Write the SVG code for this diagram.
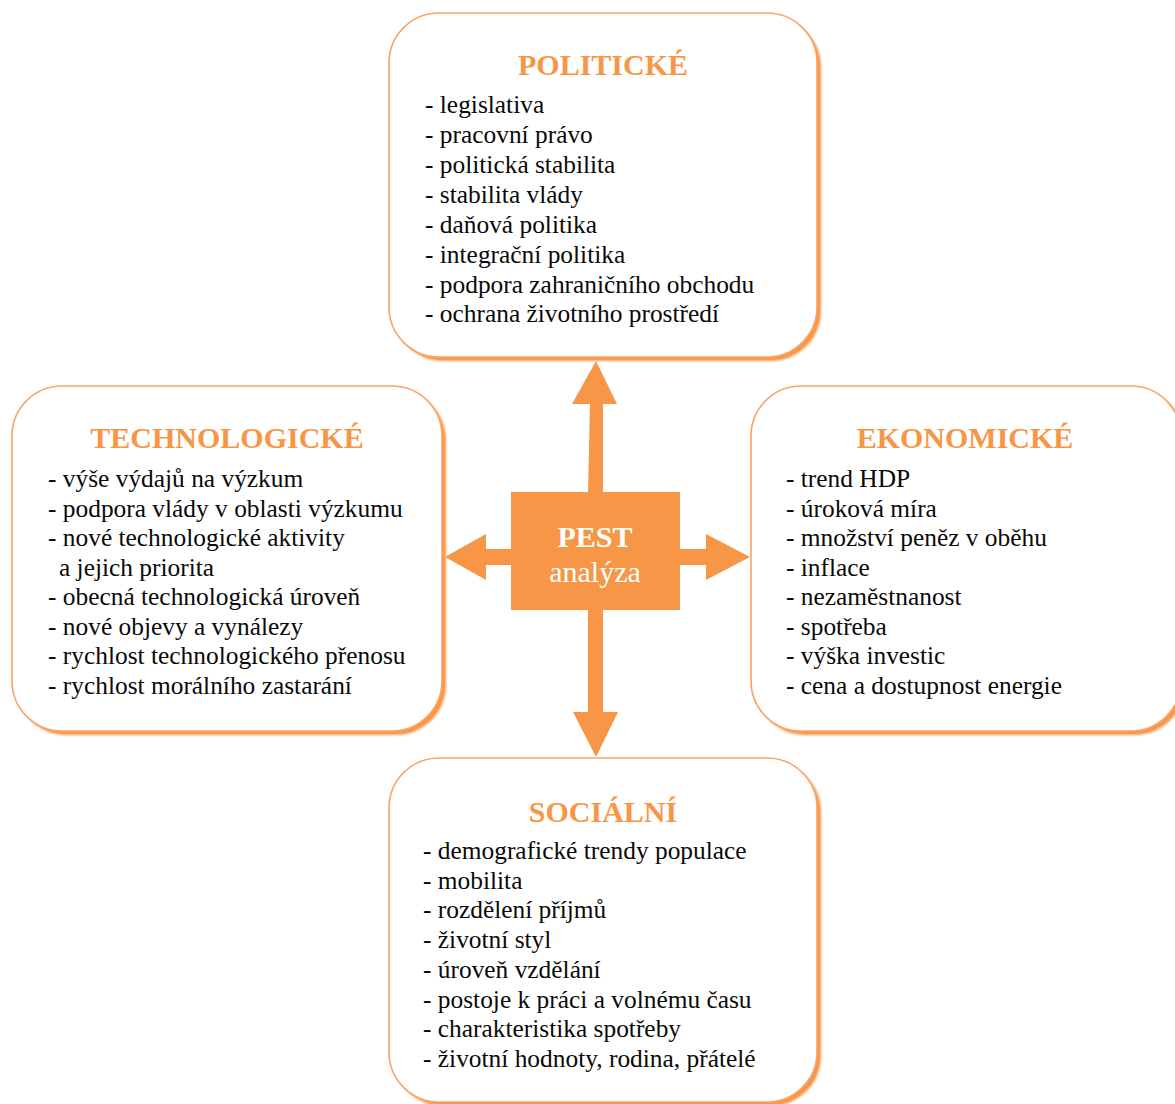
<svg xmlns="http://www.w3.org/2000/svg" width="1175" height="1104" viewBox="0 0 1175 1104">
  <defs>
    <style>
      .card { fill: #ffffff; stroke: #F9A468; stroke-width: 1.6; }
      .shade { fill: #F79646; }
      .title { font-family: "Liberation Serif", "Times New Roman", serif; font-size: 30px; font-weight: bold; fill: #F79646; text-anchor: middle; }
      .item { font-family: "Liberation Serif", "Times New Roman", serif; font-size: 25.4px; fill: #0a0a0a; }
      .hub { fill: #F79646; }
      .hubtext { font-family: "Liberation Serif", "Times New Roman", serif; font-size: 30px; fill: #ffffff; text-anchor: middle; }
      .arrow { fill: #F79646; }
    </style>
    <filter id="soft" x="-5%" y="-5%" width="110%" height="110%">
      <feGaussianBlur stdDeviation="0.8"/>
    </filter>
  </defs>

  <rect x="0" y="0" width="1175" height="1104" fill="#ffffff"/>

  <!-- connectors: four block arrows leaving the hub -->
  <g id="connectors">
    <polygon class="arrow" points="590,404 572,404 596,361 617,404 603,404 603,493 588,493"/>
    <polygon class="arrow" points="588,609 603,609 603,712 618,712 596,757 573,712 588,712"/>
    <polygon class="arrow" points="512,549 486,549 486,534 445,557 486,580 486,565 512,565"/>
    <polygon class="arrow" points="679,549 706,549 706,534 750,557 706,580 706,565 679,565"/>
  </g>

  <!-- political factors -->
  <g id="node-politicke">
    <rect class="shade" x="393" y="17" width="428" height="344" rx="50" ry="50" filter="url(#soft)"/>
    <rect class="card" x="389" y="13" width="428" height="344" rx="50" ry="50"/>
    <text class="title" x="603" y="75">POLITICKÉ</text>
    <text class="item" x="425" y="113">- legislativa</text>
    <text class="item" x="425" y="143">- pracovní právo</text>
    <text class="item" x="425" y="173">- politická stabilita</text>
    <text class="item" x="425" y="203">- stabilita vlády</text>
    <text class="item" x="425" y="233">- daňová politika</text>
    <text class="item" x="425" y="263">- integrační politika</text>
    <text class="item" x="425" y="293">- podpora zahraničního obchodu</text>
    <text class="item" x="425" y="322">- ochrana životního prostředí</text>
  </g>

  <!-- technological factors -->
  <g id="node-technologicke">
    <rect class="shade" x="16" y="390" width="430" height="345" rx="50" ry="50" filter="url(#soft)"/>
    <rect class="card" x="12" y="386" width="430" height="345" rx="50" ry="50"/>
    <text class="title" x="227" y="448">TECHNOLOGICKÉ</text>
    <text class="item" x="48" y="487">- výše výdajů na výzkum</text>
    <text class="item" x="48" y="516.5">- podpora vlády v oblasti výzkumu</text>
    <text class="item" x="48" y="546">- nové technologické aktivity</text>
    <text class="item" x="59" y="575.5">a jejich priorita</text>
    <text class="item" x="48" y="605">- obecná technologická úroveň</text>
    <text class="item" x="48" y="634.5">- nové objevy a vynálezy</text>
    <text class="item" x="48" y="664">- rychlost technologického přenosu</text>
    <text class="item" x="48" y="693.5">- rychlost morálního zastarání</text>
  </g>

  <!-- economic factors -->
  <g id="node-ekonomicke">
    <rect class="shade" x="755" y="390" width="430" height="345" rx="50" ry="50" filter="url(#soft)"/>
    <rect class="card" x="751" y="386" width="430" height="345" rx="50" ry="50"/>
    <text class="title" x="965" y="448">EKONOMICKÉ</text>
    <text class="item" x="786" y="487">- trend HDP</text>
    <text class="item" x="786" y="516.5">- úroková míra</text>
    <text class="item" x="786" y="546">- množství peněz v oběhu</text>
    <text class="item" x="786" y="575.5">- inflace</text>
    <text class="item" x="786" y="605">- nezaměstnanost</text>
    <text class="item" x="786" y="634.5">- spotřeba</text>
    <text class="item" x="786" y="664">- výška investic</text>
    <text class="item" x="786" y="693.5">- cena a dostupnost energie</text>
  </g>

  <!-- social factors -->
  <g id="node-socialni">
    <rect class="shade" x="393" y="762" width="428" height="344" rx="50" ry="50" filter="url(#soft)"/>
    <rect class="card" x="389" y="758" width="428" height="344" rx="50" ry="50"/>
    <text class="title" x="603" y="822">SOCIÁLNÍ</text>
    <text class="item" x="423" y="859">- demografické trendy populace</text>
    <text class="item" x="423" y="889">- mobilita</text>
    <text class="item" x="423" y="918">- rozdělení příjmů</text>
    <text class="item" x="423" y="948">- životní styl</text>
    <text class="item" x="423" y="978">- úroveň vzdělání</text>
    <text class="item" x="423" y="1008">- postoje k práci a volnému času</text>
    <text class="item" x="423" y="1037">- charakteristika spotřeby</text>
    <text class="item" x="423" y="1067">- životní hodnoty, rodina, přátelé</text>
  </g>

  <!-- central hub -->
  <g id="node-pest">
    <rect class="hub" x="511" y="492" width="169" height="118"/>
    <text class="hubtext" x="595" y="547" font-weight="bold">PEST</text>
    <text class="hubtext" x="595" y="582">analýza</text>
  </g>
</svg>
